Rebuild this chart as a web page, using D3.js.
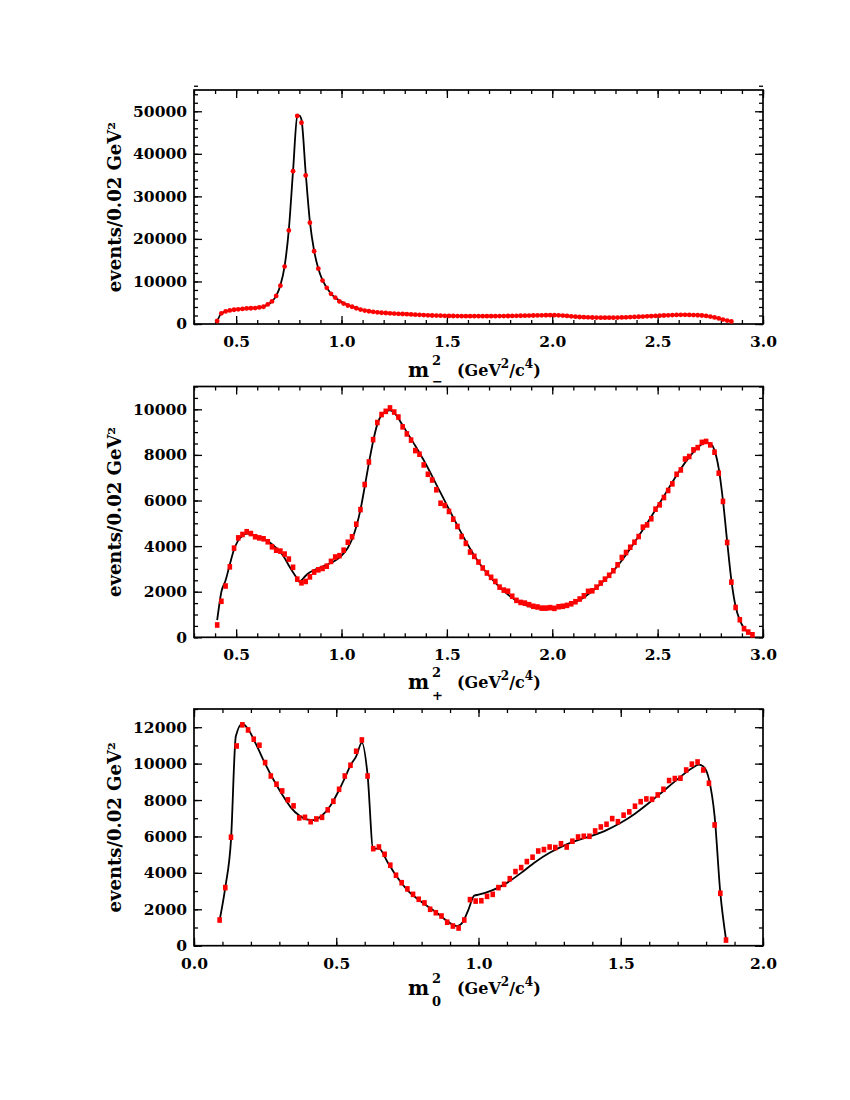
<!DOCTYPE html>
<html>
<head>
<meta charset="utf-8">
<script src="https://cdn.jsdelivr.net/npm/d3@7"></script>
<style>
  html, body { margin: 0; padding: 0; background: #fff; }
  svg { display: block; }
  text { font-family: "DejaVu Serif", serif; font-weight: bold; fill: #000; }
</style>
</head>
<body>
<svg id="chart" width="850" height="1100"></svg>
<script>
// ---------------- DATA ----------------
const binWidth = 0.02;

// Panel 1 : m^2_-  (bin centres start at 0.41)
const minusStart = 0.41;
const minusCounts = [
  700, 2500, 2950, 3200, 3350, 3450, 3550, 3650, 3700, 3750,
  3900, 4050, 4600, 5300, 6600, 9000, 13500, 22000, 35900, 48900,
  47300, 34900, 23800, 17100, 13000, 10200, 8500, 7100, 6200, 5300,
  4800, 4350, 4050, 3700, 3400, 3150, 3000, 2850, 2750, 2650,
  2580, 2520, 2460, 2400, 2350, 2300, 2250, 2200, 2150, 2100,
  2050, 2000, 1980, 1950, 1930, 1900, 1880, 1860, 1850, 1840,
  1830, 1830, 1830, 1840, 1840, 1850, 1850, 1860, 1870, 1880,
  1900, 1920, 1940, 1960, 1980, 2000, 2020, 2040, 2060, 2080,
  2070, 2040, 1980, 1900, 1800, 1720, 1650, 1600, 1560, 1530,
  1500, 1490, 1480, 1480, 1490, 1510, 1540, 1580, 1620, 1660,
  1700, 1750, 1800, 1850, 1900, 1950, 2000, 2050, 2100, 2130,
  2150, 2150, 2130, 2100, 2060, 2000, 1900, 1750, 1550, 1300,
  1050, 800, 600
];
const minusFitX = [0.41, 0.43, 0.47, 0.51, 0.55, 0.59, 0.63, 0.65, 0.67, 0.69, 0.71, 0.73, 0.75, 0.77, 0.79, 0.80, 0.81, 0.83, 0.85, 0.87, 0.89, 0.91, 0.95, 1.00, 1.05, 1.10, 1.20, 1.30, 1.40, 1.50, 1.60, 1.70, 1.80, 1.90, 2.00, 2.05, 2.10, 2.20, 2.30, 2.40, 2.50, 2.60, 2.65, 2.70, 2.75, 2.80, 2.85];
const minusFitY = [600, 2500, 3200, 3450, 3650, 3780, 4100, 4550, 5300, 6600, 9100, 13600, 22200, 36000, 48800, 49000, 48000, 35500, 24000, 17200, 13000, 10300, 7100, 5200, 4100, 3300, 2600, 2300, 2080, 1920, 1840, 1840, 1890, 1990, 2070, 1980, 1760, 1510, 1490, 1680, 1920, 2140, 2130, 2030, 1750, 1180, 600];

// Panel 2 : m^2_+  (bin centres start at 0.41)
const plusStart = 0.41;
const plusCounts = [
  540, 1580, 2250, 3090, 3910, 4360, 4510, 4630, 4550, 4410,
  4360, 4320, 4190, 3970, 3820, 3780, 3650, 3430, 3070, 2550,
  2390, 2450, 2650, 2860, 2960, 3020, 3120, 3330, 3520, 3580,
  3820, 4170, 4410, 4960, 5600, 6700, 7690, 8670, 9420, 9770,
  9910, 10060, 9880, 9660,
  9230, 8920, 8650, 8190, 8030, 7560, 7150, 6900, 6470, 5880,
  5780, 5520, 5180, 4860, 4420, 4120, 3740, 3550, 3300, 3040,
  2820, 2630, 2450, 2200, 2070, 2020, 1800, 1620, 1530, 1500,
  1430, 1360, 1330, 1280, 1280, 1300, 1270, 1340, 1360, 1400,
  1470, 1560, 1680,
  1820, 2015, 2040, 2200, 2380, 2550, 2720, 2920, 3180, 3500,
  3720, 3950, 4170, 4420, 4830, 4930, 5200, 5620, 5810, 6130,
  6440, 6730, 7150, 7340, 7820, 7930, 8220, 8320, 8550, 8590,
  8440, 8120, 7200, 5960, 4160, 2420, 1310, 770, 380, 230,
  110
];
const plusFitX = [0.41, 0.43, 0.45, 0.47, 0.49, 0.51, 0.53, 0.55, 0.57, 0.59, 0.61, 0.63, 0.65, 0.67, 0.69, 0.71, 0.73, 0.75, 0.77, 0.79, 0.80, 0.81, 0.83, 0.85, 0.87, 0.89, 0.91, 0.93, 0.95, 0.97, 0.99, 1.01, 1.03, 1.05, 1.07, 1.09, 1.11, 1.13, 1.15, 1.17, 1.19, 1.21, 1.23, 1.25, 1.27, 1.29, 1.31, 1.35, 1.40, 1.45, 1.50, 1.55, 1.60, 1.65, 1.70, 1.75, 1.80, 1.85, 1.90, 1.95, 2.00, 2.05, 2.10, 2.15, 2.20, 2.25, 2.30, 2.35, 2.40, 2.45, 2.50, 2.55, 2.60, 2.65, 2.70, 2.73, 2.75, 2.77, 2.79, 2.81, 2.83, 2.85, 2.87, 2.89, 2.91, 2.93, 2.95];
const plusFitY = [750, 2000, 2500, 3200, 3850, 4250, 4450, 4550, 4530, 4470, 4400, 4320, 4220, 4080, 3920, 3730, 3480, 3150, 2850, 2560, 2430, 2500, 2700, 2850, 2950, 3030, 3100, 3180, 3260, 3370, 3500, 3680, 3930, 4300, 4850, 5600, 6600, 7650, 8600, 9350, 9750, 9900, 9950, 9850, 9600, 9300, 9000, 8400, 7600, 6700, 5800, 4900, 4050, 3300, 2700, 2200, 1800, 1500, 1340, 1270, 1270, 1340, 1500, 1750, 2100, 2520, 3020, 3620, 4300, 5000, 5750, 6500, 7250, 7900, 8400, 8550, 8500, 8200, 7400, 6000, 4200, 2500, 1350, 750, 400, 220, 120];

// Panel 3 : m^2_0  (bin centres start at 0.09)
const zeroStart = 0.09;
const zeroCounts = [
  1410, 3190, 5960, 10970, 12130, 11850, 11340, 11010, 10060, 9320,
  8870, 8500, 8010, 7680, 7020, 7050, 6810, 6960, 7050, 7460,
  7930, 8590, 9320, 9910, 10680, 11300, 9320, 5330, 5420, 5020,
  4420, 3870, 3460, 3120, 2820, 2550, 2350, 2000, 1810, 1630,
  1290, 1080, 970, 1410, 2530, 2450,
  2470, 2710, 2820, 3190, 3370, 3680, 4070, 4290, 4620, 4860,
  5200, 5280, 5420, 5390, 5600, 5420, 5740, 5970, 6010, 6010,
  6300, 6520, 6670, 6980, 6810, 7170, 7350, 7660, 7910, 8060,
  8040, 8280, 8590, 9070, 9180, 9200, 9650, 9970, 10090, 9650,
  8920, 6630, 2880, 310
];
const zeroFitX = [0.09, 0.11, 0.13, 0.147, 0.17, 0.19, 0.22, 0.25, 0.28, 0.31, 0.34, 0.37, 0.40, 0.42, 0.45, 0.48, 0.51, 0.53, 0.55, 0.57, 0.59, 0.61, 0.63, 0.65, 0.68, 0.71, 0.75, 0.80, 0.85, 0.89, 0.925, 0.945, 0.965, 0.985, 1.00, 1.05, 1.10, 1.15, 1.20, 1.25, 1.30, 1.35, 1.40, 1.45, 1.50, 1.55, 1.60, 1.65, 1.70, 1.75, 1.775, 1.79, 1.81, 1.83, 1.85, 1.87];
const zeroFitY = [1400, 3200, 5800, 11500, 12200, 11900, 11000, 10000, 9100, 8300, 7600, 7150, 6920, 6900, 7150, 7700, 8550, 9200, 9900, 10400, 11150, 9400, 5300, 5350, 4600, 3850, 3050, 2400, 1850, 1350, 1080, 1300, 2000, 2750, 2800, 3050, 3450, 4000, 4600, 5100, 5500, 5800, 6050, 6350, 6750, 7250, 7850, 8500, 9150, 9750, 9950, 9850, 9150, 7100, 2900, 350];

// Axis ticks
const xTicksA = [0.5, 1.0, 1.5, 2.0, 2.5, 3.0];
const xTicksB = [0.0, 0.5, 1.0, 1.5, 2.0];
const yTicks1 = [0, 10000, 20000, 30000, 40000, 50000];
const yTicks2 = [0, 2000, 4000, 6000, 8000, 10000];
const yTicks3 = [0, 2000, 4000, 6000, 8000, 10000, 12000];
const yTitle = "events/0.02 GeV²";

// ---------------- DRAW ----------------
const svg = d3.select("#chart");
const L = 194, R = 763;

function rangeTicks(a, b, step) {
  const out = [];
  const n = Math.round((b - a) / step);
  for (let i = 0; i <= n; i++) out.push(+(a + i * step).toFixed(6));
  return out;
}

function panel(cfg) {
  const g = svg.append("g");
  const x = d3.scaleLinear().domain(cfg.xDomain).range([L, R]);
  const y = d3.scaleLinear().domain(cfg.yDomain).range([cfg.bottom, cfg.top]);
  const xMinor = rangeTicks(cfg.xDomain[0], cfg.xDomain[1], 0.1);
  const yMinor = rangeTicks(cfg.yDomain[0], cfg.yDomain[1], cfg.yMinorStep);

  function styleAxis(sel) {
    sel.select(".domain").remove();
    sel.selectAll(".tick line").attr("stroke", "#000").attr("stroke-width", 1.3);
    sel.selectAll(".tick text").attr("font-family", "DejaVu Serif").attr("font-weight", "bold").attr("font-size", 15.5).attr("fill", "#000");
  }
  // minor ticks
  g.append("g").attr("transform", `translate(0,${cfg.bottom})`)
    .call(d3.axisBottom(x).tickValues(xMinor).tickSize(-4).tickFormat("")).call(styleAxis);
  g.append("g").attr("transform", `translate(0,${cfg.top})`)
    .call(d3.axisTop(x).tickValues(xMinor).tickSize(-4).tickFormat("")).call(styleAxis);
  g.append("g").attr("transform", `translate(${L},0)`)
    .call(d3.axisLeft(y).tickValues(yMinor).tickSize(-4).tickFormat("")).call(styleAxis);
  g.append("g").attr("transform", `translate(${R},0)`)
    .call(d3.axisRight(y).tickValues(yMinor).tickSize(-4).tickFormat("")).call(styleAxis);
  // major ticks
  g.append("g").attr("transform", `translate(0,${cfg.bottom})`)
    .call(d3.axisBottom(x).tickValues(cfg.xTicks).tickSizeInner(-8).tickSizeOuter(0).tickPadding(12).tickFormat(d3.format(".1f")))
    .call(styleAxis);
  g.append("g").attr("transform", `translate(0,${cfg.top})`)
    .call(d3.axisTop(x).tickValues(cfg.xTicks).tickSize(-8).tickFormat("")).call(styleAxis);
  g.append("g").attr("transform", `translate(${L},0)`)
    .call(d3.axisLeft(y).tickValues(cfg.yTicks).tickSizeInner(-8).tickSizeOuter(0).tickPadding(7).tickFormat(d3.format("d")))
    .call(styleAxis);
  g.append("g").attr("transform", `translate(${R},0)`)
    .call(d3.axisRight(y).tickValues(cfg.yTicks).tickSize(-8).tickFormat("")).call(styleAxis);

  // frame
  g.append("rect").attr("x", L).attr("y", cfg.top).attr("width", R - L).attr("height", cfg.bottom - cfg.top)
    .attr("fill", "none").attr("stroke", "#000").attr("stroke-width", 1.7);

  // fit curve
  const fit = cfg.fitX.map((v, i) => [v, cfg.fitY[i]]);
  g.append("path").datum(fit)
    .attr("d", d3.line().x(d => x(d[0])).y(d => y(d[1])).curve(d3.curveMonotoneX))
    .attr("fill", "none").attr("stroke", "#000").attr("stroke-width", 1.8);

  // data points
  const pts = cfg.counts.map((c, i) => [cfg.start + i * binWidth, c]);
  if (cfg.marker === "circle") {
    g.selectAll("circle.pt").data(pts).join("circle").attr("class", "pt")
      .attr("cx", d => x(d[0])).attr("cy", d => y(d[1])).attr("r", 2.4).attr("fill", "#ff0000");
  } else {
    g.selectAll("rect.pt").data(pts).join("rect").attr("class", "pt")
      .attr("x", d => x(d[0]) - 2.3).attr("y", d => y(d[1]) - 2.8)
      .attr("width", 4.6).attr("height", 5.6).attr("fill", "#ff0000");
  }

  // y title
  const cy = (cfg.top + cfg.bottom) / 2;
  g.append("text").attr("transform", `translate(121,${cy}) rotate(-90)`)
    .attr("text-anchor", "middle").attr("font-size", 18).text(yTitle);

  // x title
  const b = cfg.bottom + cfg.titleOffset;
  g.append("text").attr("x", 408).attr("y", b).attr("font-size", 20).text("m");
  g.append("text").attr("x", 432).attr("y", b - 12).attr("font-size", 13).text("2");
  g.append("text").attr("x", 432).attr("y", b + cfg.subDy).attr("font-size", 13).text(cfg.sub);
  const t = g.append("text").attr("x", 457).attr("y", b - 1).attr("font-size", 16);
  t.append("tspan").text("(GeV");
  t.append("tspan").attr("dy", -8).attr("font-size", 12).text("2");
  t.append("tspan").attr("dy", 8).text("/c");
  t.append("tspan").attr("dy", -8).attr("font-size", 12).text("4");
  t.append("tspan").attr("dy", 8).text(")");
}

panel({
  xDomain: [0.3, 3.0], yDomain: [0, 55000], top: 90, bottom: 324,
  xTicks: xTicksA, yTicks: yTicks1, yMinorStep: 2000,
  counts: minusCounts, start: minusStart, fitX: minusFitX, fitY: minusFitY,
  marker: "circle", sub: "−", subDy: 9, titleOffset: 53
});
panel({
  xDomain: [0.3, 3.0], yDomain: [0, 11000], top: 386.5, bottom: 637.3,
  xTicks: xTicksA, yTicks: yTicks2, yMinorStep: 500,
  counts: plusCounts, start: plusStart, fitX: plusFitX, fitY: plusFitY,
  marker: "rect", sub: "+", subDy: 11, titleOffset: 52
});
panel({
  xDomain: [0.0, 2.0], yDomain: [0, 13000], top: 709, bottom: 945.7,
  xTicks: xTicksB, yTicks: yTicks3, yMinorStep: 1000,
  counts: zeroCounts, start: zeroStart, fitX: zeroFitX, fitY: zeroFitY,
  marker: "rect", sub: "0", subDy: 11, titleOffset: 49
});
</script>
</body>
</html>
